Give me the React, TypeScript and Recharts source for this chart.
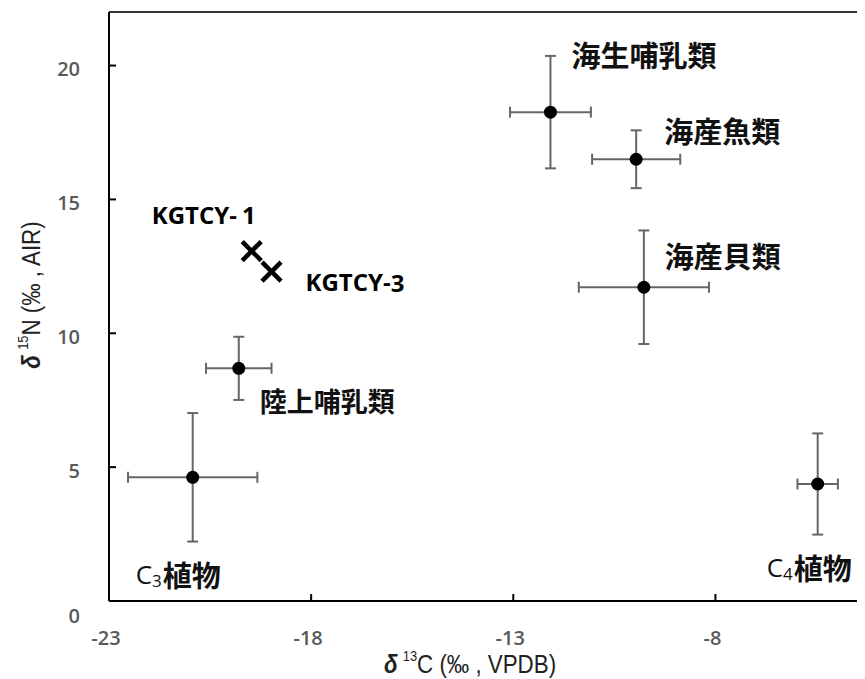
import React from 'react';
import { ScatterChart, Scatter, XAxis, YAxis, ErrorBar, ReferenceLine, Label } from 'recharts';

// Reference groups (mean ± SD)
const groups = ['海生哺乳類', '海産魚類', '海産貝類', '陸上哺乳類', 'C3植物', 'C4植物'];
const d13C = [-12.08, -9.96, -9.77, -19.79, -20.93, -5.47];
const d15N = [18.26, 16.5, 11.72, 8.69, 4.62, 4.37];
const d13CErr = [1.0, 1.09, 1.61, 0.81, 1.6, 0.5];
const d15NErr = [2.1, 1.08, 2.12, 1.18, 2.4, 1.89];

// Samples
const samples = ['KGTCY-1', 'KGTCY-3'];
const sampleC = [-19.47, -18.98];
const sampleN = [13.07, 12.3];

// Axis ticks
const xTicks = [-23, -18, -13, -8];
const yTicks = [0, 5, 10, 15, 20];

// Label placement relative to points (styling): [dx, dy, fontSize]
const labelStyle: Record<string, [number, number, number]> = {
  '海生哺乳類': [21, -58, 29],
  '海産魚類': [28, -29, 29],
  '海産貝類': [21, -32, 29],
  '陸上哺乳類': [21, 32, 27],
  'C3植物': [-57, 97, 29],
  'C4植物': [-51, 83, 29],
  'KGTCY-1': [-100, -37, 24],
  'KGTCY-3': [34, 10, 24],
};

const groupData = groups.map((g, i) => ({ name: g, x: d13C[i], y: d15N[i], ex: d13CErr[i], ey: d15NErr[i] }));
const sampleData = samples.map((s, i) => ({ name: s, x: sampleC[i], y: sampleN[i] }));

const CJK = "'Noto Sans CJK JP', 'Noto Sans', sans-serif";
const LAT = "'Open Sans', 'Noto Sans', sans-serif";
const TICKFONT = "'Open Sans', 'Liberation Sans', Arial, sans-serif";
const NARROW = "'Liberation Sans', Arial, sans-serif";

const GroupLabel = ({ x, y, name, size }: { x: number; y: number; name: string; size: number }) => {
  const m = name.match(/^C(\d)(.*)$/);
  if (m) {
    return (
      <text x={x} y={y} dominantBaseline="central" fill="#111" fontFamily={CJK} fontSize={size} fontWeight={700}>
        <tspan fontFamily={LAT} fontWeight={400} fontSize={26}>C</tspan>
        <tspan fontFamily={LAT} fontWeight={400} fontSize={17} dy={6}>{m[1]}</tspan>
        <tspan dy={-6} dx={1}>{m[2]}</tspan>
      </text>
    );
  }
  return (
    <text x={x} y={y} dominantBaseline="central" fill="#111" fontFamily={CJK} fontSize={size} fontWeight={700}>
      {name}
    </text>
  );
};

const renderDot = (props: any) => {
  const { cx, cy, payload } = props;
  const st = labelStyle[payload.name] || [0, 0, 28];
  return (
    <g>
      <circle cx={cx} cy={cy} r={6.5} fill="#000" />
      <GroupLabel x={cx + st[0]} y={cy + st[1]} name={payload.name} size={st[2]} />
    </g>
  );
};

const renderCross = (props: any) => {
  const { cx, cy, payload } = props;
  const st = labelStyle[payload.name] || [0, 0, 24];
  const h = 9.5;
  const parts = payload.name.split('-');
  return (
    <g>
      <line x1={cx - h} y1={cy - h} x2={cx + h} y2={cy + h} stroke="#000" strokeWidth={4.5} />
      <line x1={cx - h} y1={cy + h} x2={cx + h} y2={cy - h} stroke="#000" strokeWidth={4.5} />
      <text x={cx + st[0]} y={cy + st[1]} dominantBaseline="central" fill="#000" fontFamily={LAT} fontSize={st[2]} fontWeight={700}>
        {parts[0]}-<tspan dx={parts[1] === '1' ? 5 : 0}>{parts[1]}</tspan>
      </text>
    </g>
  );
};

const XTick = (props: any) => {
  const { x, y, payload } = props;
  return (
    <g>
      <line x1={x} x2={x} y1={y} y2={y - 7} stroke="#000" strokeWidth={2} />
      <text x={x - 3} y={y + 36} textAnchor="middle" dominantBaseline="central" fill="#595959" fontFamily={TICKFONT} fontWeight={600} fontSize={20}>
        {payload.value}
      </text>
    </g>
  );
};

const YTick = (props: any) => {
  const { x, y, payload } = props;
  const dy = payload.value === 0 ? 14 : 3;
  return (
    <g>
      <line x1={x} x2={x + 7} y1={y} y2={y} stroke="#000" strokeWidth={2} />
      <text x={x - 29} y={y + dy} textAnchor="end" dominantBaseline="central" fill="#595959" fontFamily={TICKFONT} fontWeight={600} fontSize={20}>
        {payload.value}
      </text>
    </g>
  );
};

const XTitle = () => (
  <g transform="translate(462 655) scale(0.86 1)">
    <text x={0} y={0} textAnchor="middle" dominantBaseline="central" fill="#222" fontFamily={NARROW} fontSize={26}>
      <tspan fontWeight={700} fontStyle="italic">δ</tspan>
      <tspan dx={6} fontSize={15} dy={-7}>13</tspan>
      <tspan dy={7}>C (‰ , VPDB)</tspan>
    </text>
  </g>
);

const YTitle = () => (
  <g transform="translate(22 287) rotate(-90) scale(0.86 1)">
    <text x={0} y={0} textAnchor="middle" dominantBaseline="central" fill="#222" fontFamily={NARROW} fontSize={26}>
      <tspan fontWeight={700} fontStyle="italic">δ</tspan>
      <tspan dx={6} fontSize={15} dy={-7}>15</tspan>
      <tspan dy={7}>N (‰ , AIR)</tspan>
    </text>
  </g>
);

export default function App() {
  return (
    <div style={{ width: 857, height: 671 }}>
      <ScatterChart width={857} height={671} margin={{ top: 4, right: 0, bottom: 0, left: 0 }}>
        <XAxis
          type="number"
          dataKey="x"
          domain={[-23, -4.3]}
          allowDataOverflow
          ticks={xTicks}
          tickSize={0}
          tickMargin={0}
          tickLine={false}
          tick={<XTick />}
          axisLine={{ stroke: '#000', strokeWidth: 2 }}
          height={78}
        >
          <Label content={<XTitle />} />
        </XAxis>
        <YAxis
          type="number"
          dataKey="y"
          domain={[0, 22]}
          allowDataOverflow
          ticks={yTicks}
          tickSize={0}
          tickMargin={0}
          tickLine={false}
          tick={<YTick />}
          axisLine={{ stroke: '#000', strokeWidth: 2 }}
          width={101}
        >
          <Label content={<YTitle />} />
        </YAxis>
        <ReferenceLine y={22} stroke="#333" strokeWidth={2} />
        <Scatter data={groupData} isAnimationActive={false} shape={renderDot}>
          <ErrorBar dataKey="ex" direction="x" width={5.5} stroke="#666" strokeWidth={2} />
          <ErrorBar dataKey="ey" direction="y" width={5.5} stroke="#666" strokeWidth={2} />
        </Scatter>
        <Scatter data={sampleData} isAnimationActive={false} shape={renderCross} />
      </ScatterChart>
    </div>
  );
}
